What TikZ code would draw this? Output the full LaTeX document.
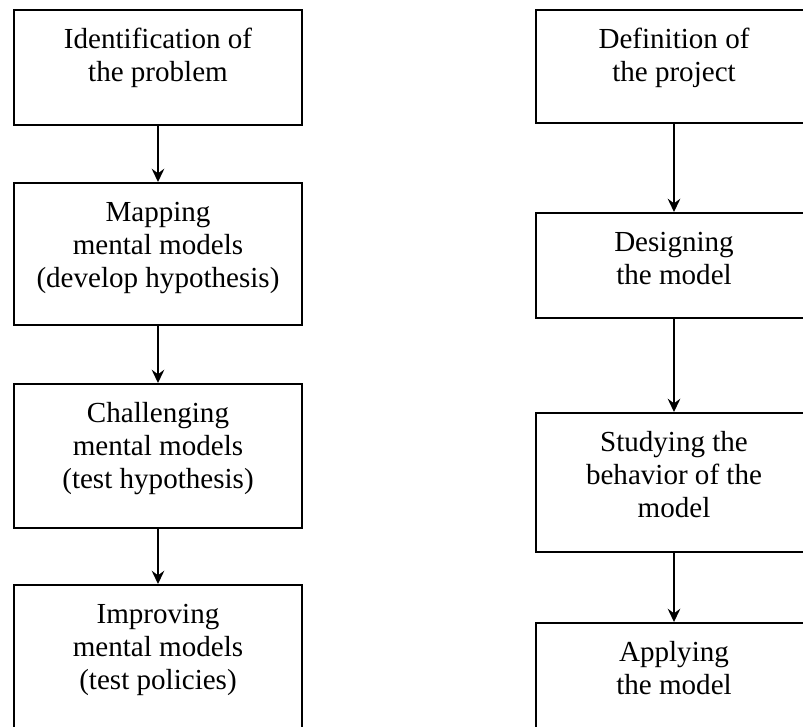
\documentclass[tikz,border=0pt]{standalone}
\usepackage{fontspec}
\setmainfont{Liberation Serif}
\usetikzlibrary{arrows.meta}
\newcommand{\boxtext}[3]{\parbox[c][#2][t]{#1}{\centering\fontsize{21.8pt}{25.1pt}\selectfont\rule{0pt}{28.5pt}#3}}
\tikzset{
  flowbox/.style={draw, line width=1.5pt, inner sep=0pt, anchor=north},
  flowarr/.style={line width=1.1pt, -{Stealth[length=10pt,width=9.5pt,inset=3.5pt]}}
}
\begin{document}
\begin{tikzpicture}[x=0.75pt,y=-0.75pt]
\useasboundingbox (0,0) rectangle (803,726);
\clip (0,0) rectangle (803,726);
% left column
\node[flowbox] (L1) at (158,9)   {\boxtext{216pt}{86.25pt}{Identification of\\the problem}};
\node[flowbox] (L2) at (158,182) {\boxtext{216pt}{106.5pt}{Mapping\\mental models\\(develop hypothesis)}};
\node[flowbox] (L3) at (158,383) {\boxtext{216pt}{108pt}{Challenging\\mental models\\(test hypothesis)}};
\node[flowbox] (L4) at (158,584) {\boxtext{216pt}{132pt}{Improving\\mental models\\(test policies)}};
% right column
\node[flowbox] (R1) at (674,9)   {\boxtext{207pt}{84.75pt}{Definition of\\the project}};
\node[flowbox] (R2) at (674,212) {\boxtext{207pt}{78.75pt}{Designing\\the model}};
\node[flowbox] (R3) at (674,412) {\boxtext{207pt}{104.25pt}{Studying the\\behavior of the\\model}};
\node[flowbox] (R4) at (674,622) {\boxtext{207pt}{103.5pt}{Applying\\the model}};
% arrows
\draw[flowarr] (L1.south) -- (L2.north);
\draw[flowarr] (L2.south) -- (L3.north);
\draw[flowarr] (L3.south) -- (L4.north);
\draw[flowarr] (R1.south) -- (R2.north);
\draw[flowarr] (R2.south) -- (R3.north);
\draw[flowarr] (R3.south) -- (R4.north);
\end{tikzpicture}
\end{document}
